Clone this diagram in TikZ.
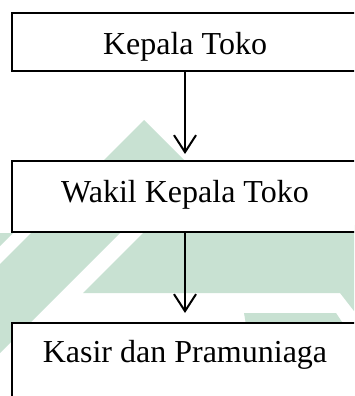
\documentclass[tikz,border=0pt]{standalone}
\usepackage{fontspec}
\setmainfont{Liberation Serif}
\usetikzlibrary{arrows.meta}
\definecolor{wmgreen}{RGB}{200,225,210}
\tikzset{
  orgbox/.style={draw=black, fill=white, line width=2.5pt, inner sep=0pt, outer sep=0pt, minimum width=346pt},
  orgtext/.style={anchor=base, inner sep=0pt, font=\fontsize{32}{38}\selectfont},
  orgarrow/.style={line width=2pt, -{Straight Barb[length=17pt, width=22pt, line width=2pt]}},
  wm/.style={fill=wmgreen, draw=none}
}
\begin{document}
\begin{tikzpicture}[x=1pt, y=-1pt]
\useasboundingbox (0,0) rectangle (354,396);
\fill[white] (0,0) rectangle (354,396);
\clip (0,0) rectangle (354,396);
% watermark shapes
\fill[wm] (0,233) -- (0,246) -- (13,233) -- cycle;
\fill[wm] (144,120) -- (0,264) -- (0,353) -- (188.5,164.5) -- cycle;
\fill[wm] (151,225) -- (354,225) -- (354,311) -- (340,293) -- (83,293) -- cycle;
\fill[wm] (244,313) -- (336,313) -- (344,325) -- (246,325) -- cycle;
% boxes
\node[orgbox, minimum height=58pt] (b1) at (185,42) {};
\node[orgbox, minimum height=71pt] (b2) at (185,196.5) {};
\node[orgbox, minimum height=100pt] (b3) at (185,373) {};
% texts
\node[orgtext] (t1) at (185,55) {Kepala Toko};
\node[orgtext] (t2) at (185,202) {Wakil Kepala Toko};
\node[orgtext] (t3) at (185,362) {Kasir dan Pramuniaga};
% connectors
\draw[orgarrow, shorten >=7pt] (b1) -- (b2);
\draw[orgarrow, shorten >=10pt] (b2) -- (b3);
\end{tikzpicture}
\end{document}
